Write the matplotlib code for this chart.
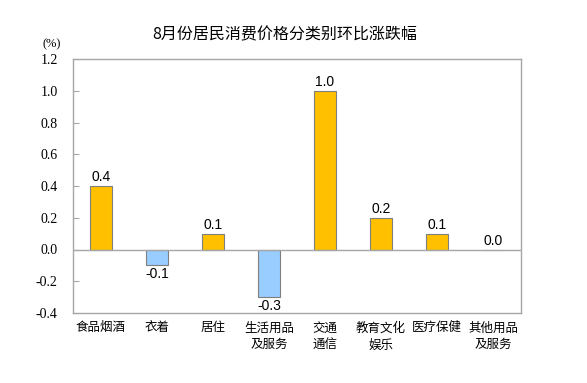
import matplotlib
matplotlib.use("Agg")
import matplotlib.pyplot as plt
import numpy as np

categories = ["食品烟酒", "衣着", "居住", "生活用品\n及服务", "交通\n通信", "教育文化\n娱乐", "医疗保健", "其他用品\n及服务"]
values = [0.4, -0.1, 0.1, -0.3, 1.0, 0.2, 0.1, 0.0]
yticks = [-0.4, -0.2, 0.0, 0.2, 0.4, 0.6, 0.8, 1.0, 1.2]
title = "8月份居民消费价格分类别环比涨跌幅"

plt.rcParams['font.family'] = ['Noto Sans CJK SC', 'DejaVu Sans']

fig = plt.figure(figsize=(5.87, 3.83), dpi=100)
W, H = 587, 383
left, right, top, bottom = 73, 521, 59, 313
ax = fig.add_axes([left / W, 1 - bottom / H, (right - left) / W, (bottom - top) / H])

x = np.arange(len(categories))
colors = ["#FFC000" if v >= 0 else "#99CCFF" for v in values]
ax.bar(x, values, width=0.4, color=colors, edgecolor="#7F7F7F", linewidth=0.8, zorder=3)
ax.axhline(0, color="#A6A6A6", linewidth=1.0, zorder=4)

for xi, v in zip(x, values):
    if v >= 0:
        ax.text(xi, v + 0.012, f"{v:.1f}", ha="center", va="bottom", fontsize=10,
                family="Liberation Sans")
    else:
        ax.text(xi, v - 0.012, f"{v:.1f}", ha="center", va="top", fontsize=10,
                family="Liberation Sans")

ax.set_xlim(-0.5, len(categories) - 0.5)
ax.set_ylim(-0.4, 1.2)
ax.set_yticks(yticks)
ax.set_yticklabels([f"{t:.1f}" for t in yticks], family="Liberation Serif", fontsize=10)
ax.tick_params(axis="y", direction="in", length=4, color="#A6A6A6", pad=11)
ax.set_xticks(x)
ax.set_xticklabels(categories, fontsize=9, linespacing=1.4)
ax.tick_params(axis="x", length=0, pad=6)
for s in ax.spines.values():
    s.set_color("#A6A6A6")
    s.set_linewidth(1.0)

fig.text(285 / W, 1 - 35 / H, title, ha="center", va="center", fontsize=11.5)
fig.text(52 / W, 1 - 44 / H, "(%)", ha="center", va="center", fontsize=9, family="Liberation Serif")

fig.savefig("out.png", dpi=100)
